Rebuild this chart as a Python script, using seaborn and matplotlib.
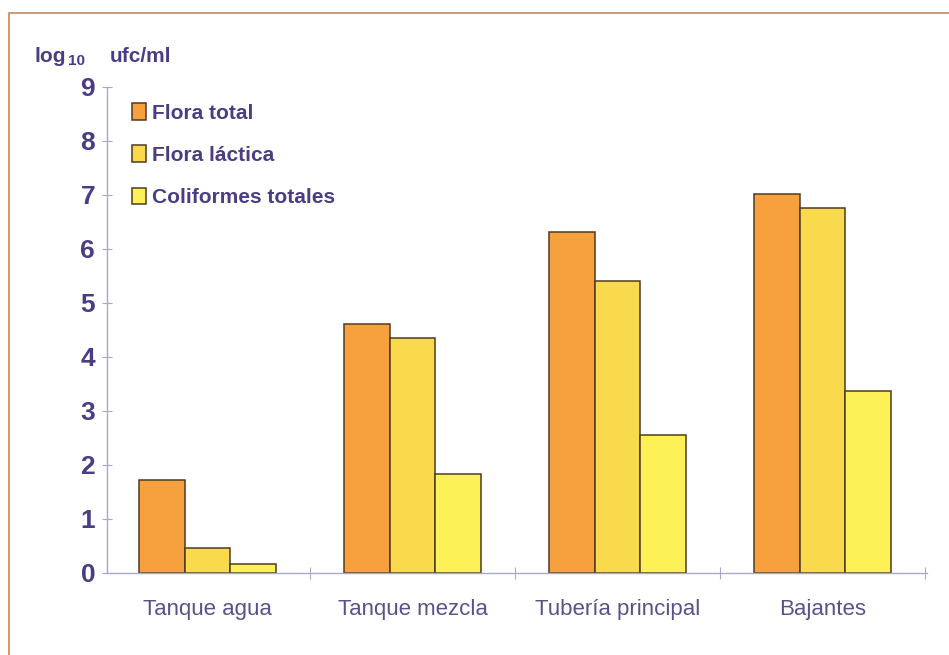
import matplotlib
matplotlib.use("Agg")
import matplotlib.pyplot as plt
import matplotlib.patches as mpatches
from matplotlib.ticker import FixedLocator
import seaborn as sns
import pandas as pd

# Recuentos microbianos por punto de muestreo (log10 ufc/ml)
puntos = ["Tanque agua", "Tanque mezcla", "Tubería principal", "Bajantes"]
series = ["Flora total", "Flora láctica", "Coliformes totales"]
flora_total = [1.72, 4.61, 6.31, 7.02]
flora_lactica = [0.46, 4.35, 5.41, 6.76]
coliformes = [0.17, 1.83, 2.56, 3.37]
y_ticks = [0, 1, 2, 3, 4, 5, 6, 7, 8, 9]

colores = ["#F7A13E", "#F9DA4C", "#FCF257"]
borde = "#4f3a22"
texto = "#4a3d84"
texto_cat = "#5b5189"
eje = "#a7aac8"

df = pd.DataFrame({
    "punto": puntos * 3,
    "serie": [s for s in series for _ in puntos],
    "valor": flora_total + flora_lactica + coliformes,
})

sns.set_theme(style="white")
plt.rcParams["font.family"] = ["Liberation Sans", "DejaVu Sans"]

fig = plt.figure(figsize=(9.49, 6.55), dpi=100)
ax = fig.add_axes([107 / 949, 82 / 655, 820 / 949, 486 / 655])

sns.barplot(data=df, x="punto", y="valor", hue="serie", order=puntos,
            hue_order=series, palette=colores, width=0.67, gap=0,
            edgecolor=borde, linewidth=1.1, saturation=1, ax=ax,
            legend=False)

ax.set_xlim(-0.49, 3.51)
ax.set_ylim(0, 9)
ax.set_xlabel("")
ax.set_ylabel("")

for s in ["top", "right"]:
    ax.spines[s].set_visible(False)
for s in ["left", "bottom"]:
    ax.spines[s].set_color(eje)
    ax.spines[s].set_linewidth(1.0)

ax.yaxis.set_major_locator(FixedLocator(y_ticks))
ax.set_yticklabels([str(t) for t in y_ticks], fontsize=19, fontweight="bold",
                   color=texto)
ax.tick_params(axis="y", which="major", left=True, direction="inout",
               length=7, width=0.8, color=eje, pad=5)

ax.set_xticks(range(len(puntos)))
ax.set_xticklabels(puntos, fontsize=16, color=texto_cat)
ax.tick_params(axis="x", which="major", bottom=False, pad=13)
ax.xaxis.set_minor_locator(FixedLocator([0.5, 1.5, 2.5, 3.5]))
ax.tick_params(axis="x", which="minor", bottom=True, direction="inout",
               length=8, width=0.8, color=eje)

# Leyenda
handles = [mpatches.Patch(facecolor=c, edgecolor=borde, linewidth=1.1)
           for c in colores]
leg = fig.legend(handles, series, loc="upper left",
                 bbox_to_anchor=(132 / 949, 1 - 103 / 655),
                 frameon=False, fontsize=15, handlelength=0.65,
                 handleheight=0.85, handletextpad=0.3, labelspacing=1.1,
                 borderpad=0, borderaxespad=0)
for t in leg.get_texts():
    t.set_color(texto)
    t.set_fontweight("bold")

# Unidades del eje vertical
fig.text(35 / 949, 1 - 56 / 655, "log", fontsize=15, fontweight="bold",
         color=texto, va="center", ha="left")
fig.text(68 / 949, 1 - 61 / 655, "10", fontsize=11, fontweight="bold",
         color=texto, va="center", ha="left")
fig.text(110 / 949, 1 - 56 / 655, "ufc/ml", fontsize=15, fontweight="bold",
         color=texto, va="center", ha="left")

# Marco de la figura
marco = mpatches.Rectangle((9 / 949, -0.2), 1.2, 1 - 13 / 655 + 0.2,
                           transform=fig.transFigure, fill=False,
                           edgecolor="#c7926f", linewidth=1.3,
                           clip_on=False)
fig.patches.append(marco)

fig.savefig("out.png", dpi=100, facecolor="white")
